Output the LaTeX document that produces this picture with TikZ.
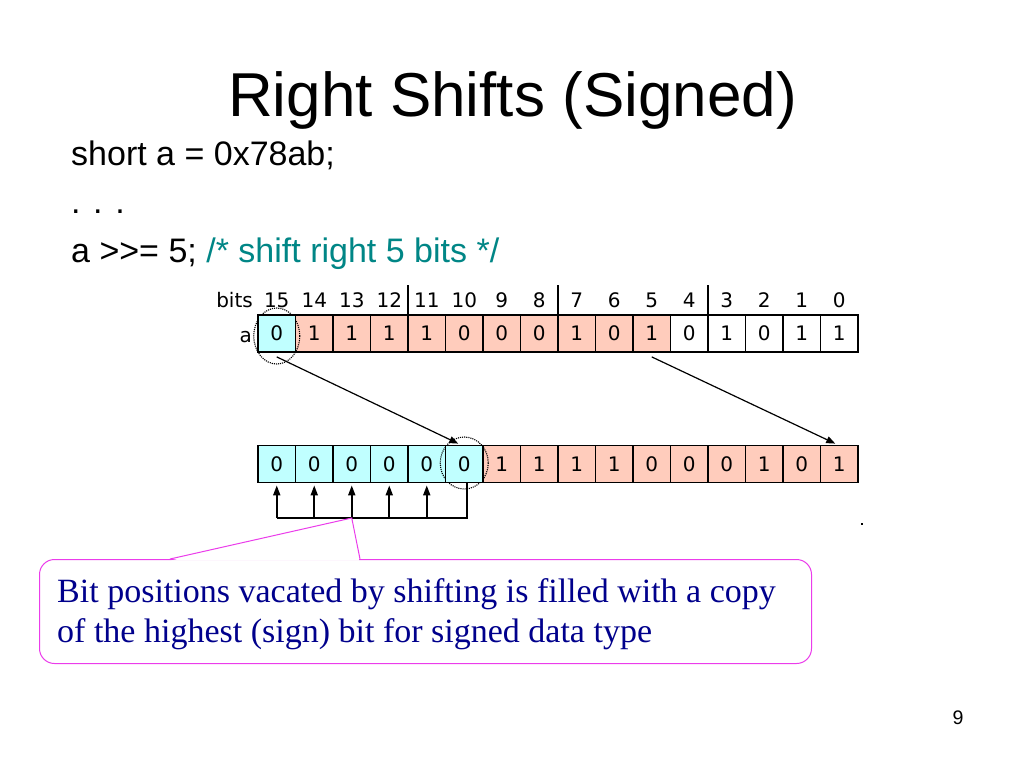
\documentclass[tikz,border=0pt]{standalone}
\usepackage{fontspec}
\usetikzlibrary{arrows.meta}
\newfontfamily\slidesans{Liberation Sans}
\newfontfamily\slideserif{Liberation Serif}
\newfontfamily\bitfont{DejaVu Sans}
\definecolor{cellcyan}{RGB}{192,255,255}
\definecolor{cellsalmon}{RGB}{255,204,188}
\definecolor{commentteal}{RGB}{0,134,134}
\definecolor{calloutmag}{RGB}{235,60,235}
\definecolor{calloutnavy}{RGB}{0,0,140}
\tikzset{
  bitcell/.style={draw=black, line width=1.8pt, minimum width=37.5pt, minimum height=37pt, inner sep=0pt, font=\bitfont\fontsize{20pt}{20pt}\selectfont},
  bitlabel/.style={anchor=base, inner sep=0pt, font=\bitfont\fontsize{20pt}{20pt}\selectfont},
  shiftarrow/.style={line width=1.2pt, -{Triangle[length=9pt,width=7pt]}},
  fillarrow/.style={line width=1.8pt, -{Triangle[length=10pt,width=7pt]}},
  ringmark/.style={densely dotted, line width=1.1pt},
  bodytext/.style={anchor=base west, inner sep=0pt, font=\slidesans\fontsize{34pt}{40pt}\selectfont},
  callouttext/.style={anchor=base west, inner sep=0pt, text=calloutnavy, font=\slideserif\fontsize{34pt}{40pt}\selectfont}
}
\begin{document}
\begin{tikzpicture}[x=1pt,y=-1pt]
\useasboundingbox[fill=white] (0,0) rectangle (1024,768);

% title and code lines
\node[anchor=base, inner sep=0pt, font=\slidesans\fontsize{62pt}{70pt}\selectfont] (title) at (512.5,116) {Right Shifts (Signed)};
\node[bodytext] (line1) at (71,165) {short a = 0x78ab;};
\node[bodytext] (line2) at (71,213) {. . .};
\node[bodytext] (line3) at (71,262) {a >>= 5; \textcolor{commentteal}{/* shift right 5 bits */}};

% bit numbers
\node[bitlabel, anchor=base east] (bitsword) at (253,307) {bits};
\node[bitlabel, anchor=base east] (aword) at (252,342) {a};
\foreach \i in {0,...,15} {
  \pgfmathtruncatemacro{\b}{15-\i}
  \node[bitlabel] (n\i) at ({258+(\i+0.5)*37.5},307) {\b};
}
\foreach \k in {4,8,12} {
  \draw[line width=1.8pt] ({258+\k*37.5},285) -- ({258+\k*37.5},315);
}

% top row: value 0x78ab, bit 15 first
\foreach \i/\v/\c in {1/1/cellsalmon,2/1/cellsalmon,3/1/cellsalmon,4/1/cellsalmon,5/0/cellsalmon,6/0/cellsalmon,7/0/cellsalmon,8/1/cellsalmon,9/0/cellsalmon,10/1/cellsalmon,11/0/white,12/1/white,13/0/white,14/1/white,15/1/white} {
  \node[bitcell, fill=\c] (t\i) at ({258+(\i+0.5)*37.5},333.5) {\v};
}
% bottom row after the shift
\foreach \i/\v/\c in {0/0/cellcyan,1/0/cellcyan,2/0/cellcyan,3/0/cellcyan,4/0/cellcyan,6/1/cellsalmon,7/1/cellsalmon,8/1/cellsalmon,9/1/cellsalmon,10/0/cellsalmon,11/0/cellsalmon,12/0/cellsalmon,13/1/cellsalmon,14/0/cellsalmon,15/1/cellsalmon} {
  \node[bitcell, fill=\c] (b\i) at ({258+(\i+0.5)*37.5},464) {\v};
}

% dotted rings around the sign bit
\draw[ringmark] (276.75,336) ellipse [x radius=23, y radius=28];
\draw[ringmark] (464.25,463) ellipse [x radius=24, y radius=26];

% highlighted sign-bit cells on top of the rings
\node[bitcell, fill=cellcyan] (t0) at ({258+0.5*37.5},333.5) {0};
\node[bitcell, fill=cellcyan] (b5) at ({258+5.5*37.5},464) {0};

% shift arrows
\draw[shiftarrow] ([yshift=-4pt]t0.south) -- ([xshift=-6pt,yshift=1pt]b5.north);
\draw[shiftarrow] ([yshift=-4pt]t10.south) -- ([xshift=-4pt,yshift=1pt]b15.north);

% sign-bit fill arrows
\coordinate (fbR) at ([xshift=3pt]b5.south |- 0,518);
\draw[line width=1.8pt] ([xshift=3pt]b5.south) -- (fbR) -- (b0.south |- fbR);
\foreach \i in {0,...,4} {
  \draw[fillarrow] (b\i.south |- fbR) -- ([yshift=-2pt]b\i.south);
}

% small dot
\fill (861,523) rectangle (863,525);

% callout
\coordinate (tip) at (b2.south |- fbR);
\node[draw=calloutmag, line width=1pt, rounded corners=15pt, minimum width=772pt, minimum height=104pt, anchor=north west, inner sep=0pt] (cbox) at (39,559) {};
\fill[white] (171,560.5) -- (tip) -- (359,560.5) -- cycle;
\draw[calloutmag, line width=1pt] (170,559) -- (tip) -- (360,559);
\node[callouttext] (ctext1) at (57,602) {Bit positions vacated by shifting is filled with a copy};
\node[callouttext] (ctext2) at (57,642) {of the highest (sign) bit for signed data type};

% page number
\node[anchor=base, inner sep=0pt, font=\slidesans\fontsize{19.6pt}{20pt}\selectfont] (pagenum) at (958,724) {9};
\end{tikzpicture}
\end{document}
